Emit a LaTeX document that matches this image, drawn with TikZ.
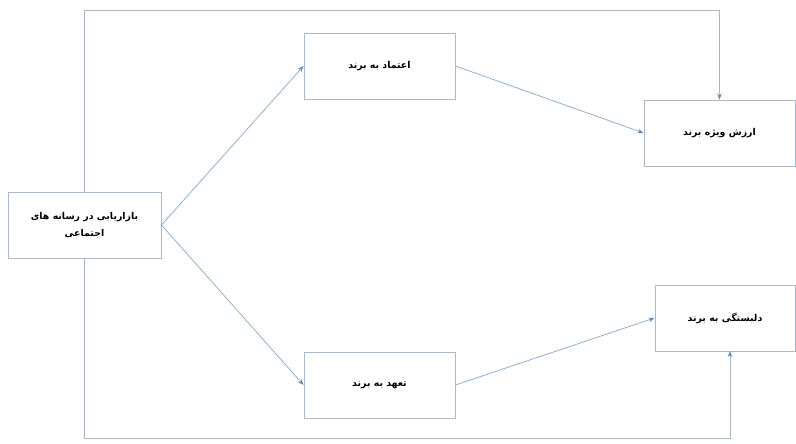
\documentclass[tikz,border=0pt]{standalone}
\usepackage{fontspec}
\TeXXeTstate=1
\newfontfamily\arabicfont[Script=Arabic]{DejaVu Sans}
\usetikzlibrary{arrows.meta}
\definecolor{boxline}{HTML}{A8BACB}
\definecolor{conn}{HTML}{8FB0D2}
\definecolor{tipc}{HTML}{5A8AC0}
\tikzset{
  box/.style={draw=boxline, line width=0.9pt, fill=white, minimum height=66pt, align=center, font=\arabicfont\bfseries\fontsize{9.4}{17.5}\selectfont},
  conn/.style={draw=conn, line width=0.8pt, -{Stealth[length=6pt,width=4.5pt,color=tipc]}},
  frame/.style={draw=boxline!80!conn, line width=0.9pt, -{Stealth[length=6pt,width=4.5pt,color=tipc]}}
}
\begin{document}
\begin{tikzpicture}[x=1pt,y=-1pt]
\useasboundingbox (0,0) rectangle (796,444);
\node[box, minimum width=153pt] (a) at (84.5,225) {\beginR بازاریابی در رسانه های\endR\\\beginR اجتماعی\endR};
\node[box, minimum width=151pt] (b) at (379.5,66) {\beginR اعتماد به برند\endR};
\node[box, minimum width=151pt] (c) at (719.5,133) {\beginR ارزش ویژه برند\endR};
\node[box, minimum width=151pt] (d) at (379.5,385) {\beginR تعهد به برند\endR};
\node[box, minimum width=140pt] (e) at (725,318) {\beginR دلبستگی به برند\endR};
\coordinate (t) at (84.5,10);
\coordinate (u) at (84.5,438);
\coordinate (ev) at (730,351);
\draw[frame] (a.north) -- (t) -| (c.north);
\draw[frame] (a.south) -- (u) -| (ev);
\draw[conn] (a.east) -- (b.west);
\draw[conn] (a.east) -- (d.west);
\draw[conn] (b.east) -- (c.west);
\draw[conn] (d.east) -- (e.west);
\end{tikzpicture}
\end{document}
